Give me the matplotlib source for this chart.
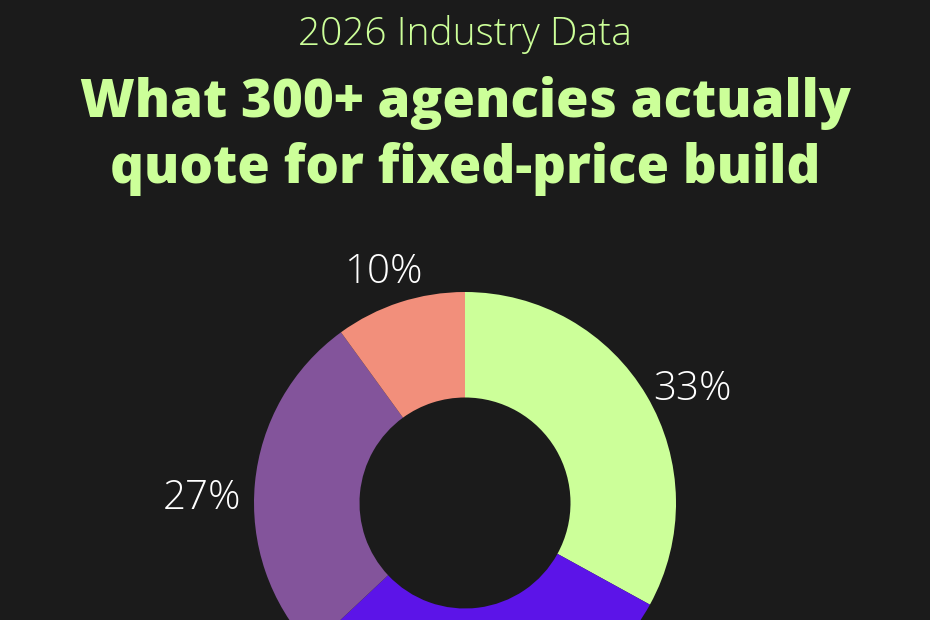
import matplotlib.pyplot as plt

# Data
shares = [33, 30, 27, 10]
labels = ['33%', '30%', '27%', '10%']
colors = ['#ccff99', '#5c14e8', '#83549b', '#f28f7b']

bg = '#1b1b1b'
green = '#ccff99'

fig = plt.figure(figsize=(9.3, 6.2), dpi=100, facecolor=bg)

# axes placed so the donut centre sits at (465, 503) px with radius 211 px
ax = fig.add_axes([148.5 / 930, -199.5 / 620, 633 / 930, 633 / 620])
ax.set_facecolor(bg)
# the 30% label sits below the visible area, so it is left blank
shown = [lab if lab != '30%' else '' for lab in labels]
wedges, texts = ax.pie(shares, labels=shown, colors=colors, startangle=90,
                       counterclock=False, radius=1.0, labeldistance=1.25,
                       wedgeprops=dict(width=0.5, linewidth=0),
                       textprops=dict(color='white', fontsize=29, family='Open Sans',
                                      fontweight='light'))
for t in texts:
    t.set_horizontalalignment('center')
    t.set_verticalalignment('top')
ax.set_xlim(-1.5, 1.5)
ax.set_ylim(-1.5, 1.5)
ax.set_aspect('equal')
ax.axis('off')

fig.text(0.5, 1 - 35 / 620, '2026 Industry Data', ha='center', va='center',
         color=green, fontsize=28, family='Open Sans', fontweight='light')
fig.text(0.5, 1 - 103 / 620, 'What 300+ agencies actually', ha='center', va='center',
         color=green, fontsize=38, fontweight='heavy', family='Open Sans')
fig.text(0.5, 1 - 169 / 620, 'quote for fixed-price build', ha='center', va='center',
         color=green, fontsize=38, fontweight='heavy', family='Open Sans')

fig.savefig('out.png', dpi=100, facecolor=bg)
